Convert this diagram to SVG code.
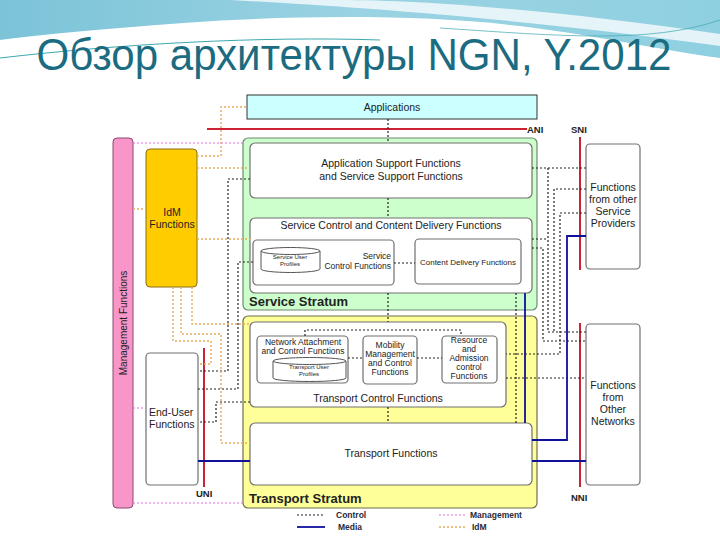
<svg xmlns="http://www.w3.org/2000/svg" width="720" height="540" viewBox="0 0 720 540">
<defs>
<linearGradient id="sky" x1="0" y1="0" x2="1" y2="0">
<stop offset="0" stop-color="#7cc3d8"/>
<stop offset="0.5" stop-color="#9ad3e3"/>
<stop offset="1" stop-color="#8fd0e0"/>
</linearGradient>
<linearGradient id="fade" x1="0" y1="0" x2="0" y2="1">
<stop offset="0" stop-color="#ffffff" stop-opacity="0"/>
<stop offset="1" stop-color="#ffffff" stop-opacity="1"/>
</linearGradient>
<style>
text{font-family:"Liberation Sans",Arial,sans-serif;fill:#222}
.t{font-size:10.5px;text-anchor:middle}
.s{font-size:8.5px;text-anchor:middle}
.xs{font-size:6px;text-anchor:middle}
.b{font-weight:bold}
.box{fill:#fff;stroke:#707070;stroke-width:1.2}
.ctl{fill:none;stroke:#222;stroke-width:1.2;stroke-dasharray:2,2}
.mgt{fill:none;stroke:#e070e0;stroke-width:1.2;stroke-dasharray:2,2}
.idm{fill:none;stroke:#e6ad5c;stroke-width:1.4;stroke-dasharray:2,2}
.med{fill:none;stroke:#10109a;stroke-width:1.8}
.red{fill:none;stroke:#cc2233;stroke-width:2}
.lbl{font-size:9.5px;font-weight:bold;fill:#222}
.leg{font-size:8.5px;font-weight:bold;fill:#2a2a3a}
</style>
</defs>
<rect x="0" y="0" width="720" height="540" fill="#ffffff"/>
<g id="background">
<path d="M0,0 H720 V58 C660,50 600,36 520,26 C400,12 250,16 120,28 C70,32 30,36 0,40 Z" fill="url(#sky)"/>
<path d="M230,0 C340,6 520,18 720,46 V34 C570,12 430,0 340,0 Z" fill="#ffffff" opacity="0.75"/>
<path d="M0,40 C60,34 150,28 260,26 C380,24 470,30 560,40 L720,62 V90 H0 Z" fill="url(#fade)"/>
<path d="M0,58 C120,44 260,36 380,40" fill="none" stroke="#3aa8b0" stroke-width="1"/>
<path d="M440,28 C560,36 650,44 720,20" fill="none" stroke="#3aa8b0" stroke-width="1" opacity="0.7"/>
</g>
<text x="354" y="70" text-anchor="middle" textLength="635" lengthAdjust="spacingAndGlyphs" style="font-family:'Liberation Sans',Arial,sans-serif;font-size:44px;fill:#1b6c80">Обзор архитектуры NGN, Y.2012</text>

<g id="management">
<rect x="113" y="138" width="20" height="370" rx="4" fill="#f996c9" stroke="#8a4a70" stroke-width="1"/>
<text transform="translate(127,323) rotate(-90)" style="font-size:10px;text-anchor:middle">Management Functions</text>
</g>
<g id="idm-functions">
<rect x="146" y="149" width="51" height="138" rx="4" fill="#ffcc00" stroke="#8a6e10" stroke-width="1"/>
<text class="t" x="172" y="216">IdM</text>
<text class="t" x="172" y="228">Functions</text>
</g>
<g id="end-user">
<rect class="box" x="146" y="353" width="52" height="132" rx="4"/>
<text x="149" y="416" style="font-size:10.5px">End-User</text>
<text x="149" y="428" style="font-size:10.5px">Functions</text>
</g>
<g id="applications">
<rect x="247" y="95" width="290" height="24" fill="#ccffff" stroke="#333" stroke-width="1"/>
<text class="t" x="392" y="111">Applications</text>
</g>
<g id="service-stratum">
<rect x="243" y="138" width="294" height="172" rx="5" fill="#ccffcc" stroke="#6f8a6f" stroke-width="1.2"/>
<text class="b" x="249" y="306" style="font-size:13px">Service Stratum</text>
</g>
<g id="app-support">
<rect class="box" x="250" y="143" width="282" height="55" rx="5"/>
<text class="t" x="391" y="167">Application Support Functions</text>
<text class="t" x="391" y="180">and Service Support Functions</text>
</g>
<g id="sccdf">
<rect class="box" x="250" y="218" width="282" height="75" rx="5"/>
<text class="t" x="391" y="229">Service Control and Content Delivery Functions</text>
</g>
<g id="service-control">
<rect class="box" x="253" y="240" width="141" height="45" rx="4"/>
<path d="M261,251 A29.5,3.5 0 0 1 320,251 V269 A29.5,3.5 0 0 1 261,269 Z M261,251 A29.5,3.5 0 0 0 320,251" fill="#fff" stroke="#555" stroke-width="1"/>
<text class="xs" x="290" y="259">Service User</text>
<text class="xs" x="290" y="266">Profiles</text>
<text x="391" y="259" style="font-size:8.5px;text-anchor:end">Service</text>
<text x="391" y="269" style="font-size:8.5px;text-anchor:end">Control Functions</text>
</g>
<g id="content-delivery">
<rect class="box" x="415" y="239" width="106" height="45" rx="4"/>
<text x="468" y="265" style="font-size:8px;text-anchor:middle">Content Delivery Functions</text>
</g>
<g id="transport-stratum">
<rect x="243" y="316" width="294" height="192" rx="5" fill="#ffff99" stroke="#6f6f50" stroke-width="1.2"/>
<text class="b" x="249" y="503" style="font-size:13px">Transport Stratum</text>
</g>
<g id="transport-control">
<rect class="box" x="250" y="322" width="256" height="85" rx="5"/>
<text class="t" x="378" y="402">Transport Control Functions</text>
</g>
<g id="nacf">
<rect class="box" x="257" y="336" width="91" height="47" rx="4"/>
<text class="s" x="303" y="345">Network Attachment</text>
<text class="s" x="303" y="354">and Control Functions</text>
<path d="M273,361 A36.5,3.5 0 0 1 346,361 V378 A36.5,3.5 0 0 1 273,378 Z M273,361 A36.5,3.5 0 0 0 346,361" fill="#fff" stroke="#555" stroke-width="1"/>
<text class="xs" x="309" y="369">Transport User</text>
<text class="xs" x="309" y="376">Profiles</text>
</g>
<g id="mobility">
<rect class="box" x="363" y="336" width="54" height="48" rx="4"/>
<text class="s" x="390" y="348">Mobility</text>
<text class="s" x="390" y="357">Management</text>
<text class="s" x="390" y="366">and Control</text>
<text class="s" x="390" y="375">Functions</text>
</g>
<g id="racf">
<rect class="box" x="442" y="336" width="55" height="47" rx="4"/>
<text class="s" x="469" y="343">Resource</text>
<text class="s" x="469" y="352">and</text>
<text class="s" x="469" y="361">Admission</text>
<text class="s" x="469" y="370">control</text>
<text class="s" x="469" y="379">Functions</text>
</g>
<g id="transport-functions">
<rect class="box" x="250" y="423" width="282" height="62" rx="5"/>
<text class="t" x="391" y="457">Transport Functions</text>
</g>
<g id="other-sp">
<rect class="box" x="586" y="144" width="54" height="125" rx="4"/>
<text class="t" x="613" y="191">Functions</text>
<text class="t" x="613" y="203">from other</text>
<text class="t" x="613" y="215">Service</text>
<text class="t" x="613" y="227">Providers</text>
</g>
<g id="other-networks">
<rect class="box" x="586" y="324" width="54" height="161" rx="4"/>
<text class="t" x="613" y="389">Functions</text>
<text class="t" x="613" y="401">from</text>
<text class="t" x="613" y="413">Other</text>
<text class="t" x="613" y="425">Networks</text>
</g>

<g id="connectors">
<!-- reference points -->
<path class="red" d="M207,129 H527"/>
<path class="red" d="M580,137 V270"/>
<path class="red" d="M580,323 V487"/>
<path class="red" d="M204,348 V487"/>
<!-- inter-stratum control -->
<path class="ctl" d="M388,119 V143 M388,198 V218 M388,293 V322 M388,407 V423"/>
<path class="ctl" d="M394,263 H415"/>
<path class="ctl" d="M348,358 H363 M417,358 H442"/>
<path class="ctl" d="M305,336 V330 H461 V336"/>
<!-- left control -->
<path class="ctl" d="M250,179 H228 V371 H198"/>
<path class="ctl" d="M253,262 H238 V389 H198"/>
<path class="ctl" d="M250,402 H216 V422 H198"/>
<!-- right control -->
<path class="ctl" d="M532,168 H586"/>
<path class="ctl" d="M532,239 H548 M548,168 V332 H586"/>
<path class="ctl" d="M586,189 H554 V332"/>
<path class="ctl" d="M532,248 H543 V341 H586"/>
<path class="ctl" d="M586,213 H560 V354 H506"/>
<path class="ctl" d="M506,378 H586"/>
<path class="ctl" d="M516,293 V423"/>
<!-- management -->
<path class="mgt" d="M133,143 H243"/>
<path class="mgt" d="M133,408 H146"/>
<path class="mgt" d="M133,503 H243"/>
<!-- IdM -->
<path class="idm" d="M133,209 H146"/>
<path class="idm" d="M197,156 H221 V107 H247"/>
<path class="idm" d="M197,168 H250"/>
<path class="idm" d="M197,239 H253"/>
<path class="idm" d="M192,287 V324 H250"/>
<path class="idm" d="M181,287 V334 H221 V443 H250"/>
<path class="idm" d="M173,287 V341 H211 V364 H198"/>
<!-- media -->
<path class="med" d="M525,293 V423"/>
<path class="med" d="M586,236 H567 V440 H532"/>
<path class="med" d="M532,461 H586"/>
<path class="med" d="M198,461 H250"/>
</g>
<g id="labels">
<text class="lbl" x="527" y="133">ANI</text>
<text class="lbl" x="571" y="133">SNI</text>
<text class="lbl" x="196" y="497">UNI</text>
<text class="lbl" x="571" y="501">NNI</text>
</g>
<g id="legend">
<path class="ctl" d="M297,515 H325"/>
<path class="med" d="M297,527 H325"/>
<path class="mgt" d="M439,515 H467"/>
<path class="idm" d="M439,527 H467"/>
<text class="leg" x="336" y="518">Control</text>
<text class="leg" x="338" y="530">Media</text>
<text class="leg" x="470" y="518">Management</text>
<text class="leg" x="472" y="530">IdM</text>
</g>
</svg>
